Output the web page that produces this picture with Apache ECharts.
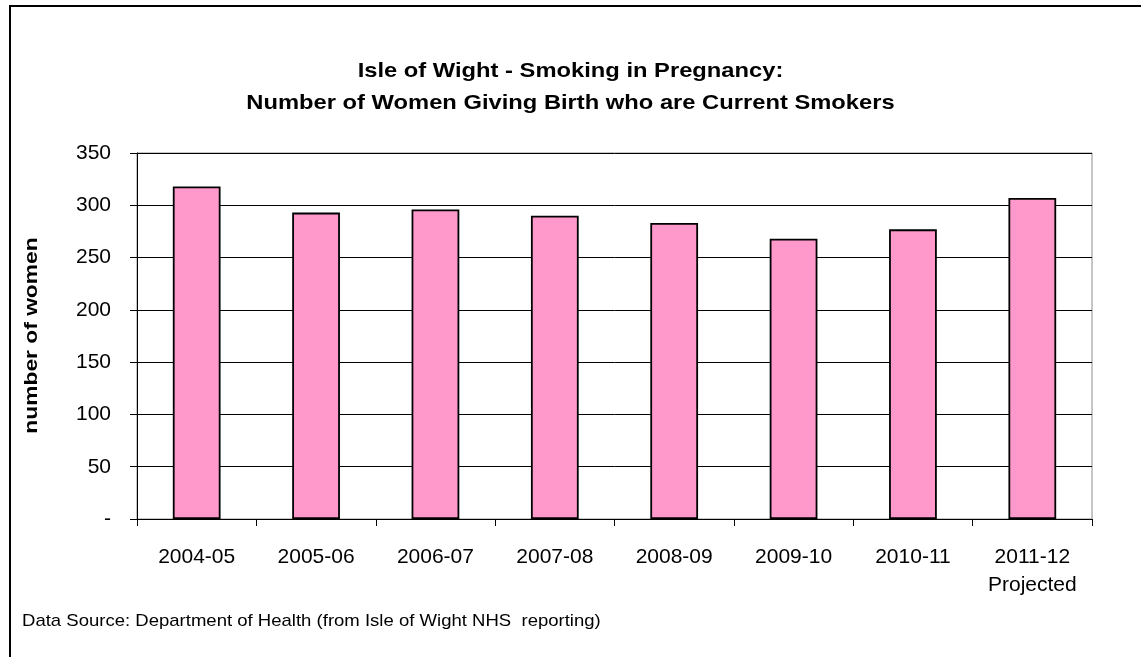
<!DOCTYPE html>
<html>
<head>
<meta charset="utf-8">
<script src="https://cdn.jsdelivr.net/npm/echarts@6/dist/echarts.min.js"></script>
<style>
  html, body { margin: 0; padding: 0; background: #fff; }
  #chart { width: 1141px; height: 657px; }
</style>
</head>
<body>
<div id="chart"></div>
<script>
// Financial years reported (last one is a projection)
const years = ['2004-05', '2005-06', '2006-07', '2007-08', '2008-09', '2009-10', '2010-11', '2011-12\nProjected'];
// Women giving birth who are current smokers
const smokers = [318, 293, 296, 290, 283, 268, 277, 307];
// Value axis ticks
const yTicks = [0, 50, 100, 150, 200, 250, 300, 350];

const FONT = 'Arial, "Liberation Sans", sans-serif';
const chart = echarts.init(document.getElementById('chart'), null, { renderer: 'canvas' });

chart.setOption({
  animation: false,
  backgroundColor: '#ffffff',
  graphic: [
    {
      // outer chart frame
      type: 'rect',
      shape: { x: 10, y: 6, width: 1150, height: 680 },
      style: { fill: 'none', stroke: '#000', lineWidth: 2 },
      silent: true
    },
    {
      // two-line heading, slightly widened
      type: 'text',
      x: 570.5, y: 87,
      scaleX: 1.13,
      style: {
        text: 'Isle of Wight - Smoking in Pregnancy:\nNumber of Women Giving Birth who are Current Smokers',
        font: 'bold 21px ' + FONT,
        lineHeight: 32,
        align: 'center',
        verticalAlign: 'middle',
        fill: '#000'
      }
    },
    {
      // value axis title
      type: 'text',
      x: 32, y: 335.5,
      rotation: Math.PI / 2,
      scaleX: 1.2,
      style: {
        text: 'number of women',
        font: 'bold 19px ' + FONT,
        align: 'center',
        verticalAlign: 'middle',
        fill: '#000'
      }
    },
    {
      type: 'text',
      x: 22, y: 621,
      scaleX: 1.09,
      style: {
        text: 'Data Source: Department of Health (from Isle of Wight NHS  reporting)',
        font: '17px ' + FONT,
        verticalAlign: 'middle',
        fill: '#000'
      }
    }
  ],
  grid: {
    left: 137, right: 49, top: 153, bottom: 138,
    show: true, borderColor: '#8c8c8c', borderWidth: 1, backgroundColor: 'transparent'
  },
  xAxis: {
    type: 'category',
    data: years,
    axisLine: { lineStyle: { color: '#000', width: 1 } },
    axisTick: { show: true, alignWithLabel: false, length: 7, lineStyle: { color: '#000' } },
    axisLabel: { fontFamily: FONT, fontSize: 21, color: '#000', margin: 24, lineHeight: 28, interval: 0 }
  },
  yAxis: {
    type: 'value',
    min: yTicks[0],
    max: yTicks[yTicks.length - 1],
    interval: 50,
    axisLine: { show: true, lineStyle: { color: '#000', width: 1 } },
    axisTick: { show: true, length: 7, lineStyle: { color: '#000' } },
    axisLabel: {
      fontFamily: FONT, fontSize: 21, color: '#000', margin: 26,
      formatter: v => (v === 0 ? '-' : String(v))
    },
    splitLine: { show: true, lineStyle: { color: '#000', width: 1 } }
  },
  series: [{
    type: 'bar',
    data: smokers,
    barCategoryGap: '60%',
    itemStyle: { color: '#FF99CC', borderColor: '#000', borderWidth: 1.8 }
  }]
});
</script>
</body>
</html>
